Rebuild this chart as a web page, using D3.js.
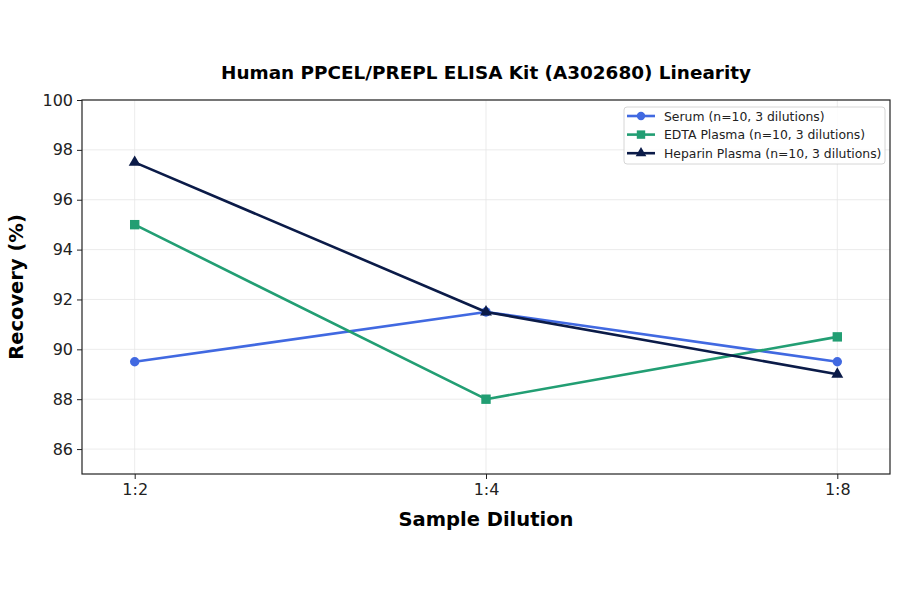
<!DOCTYPE html>
<html><head><meta charset="utf-8">
<script src="https://cdn.jsdelivr.net/npm/d3@7"></script>
<style>body{margin:0;background:#fff}svg{font-family:"DejaVu Sans",sans-serif}</style>
</head><body>
<svg id="c" width="900" height="594"></svg>
<script>
const categories = ["1:2","1:4","1:8"];
const serum = [89.5, 91.5, 89.5];
const edta = [95.0, 88.0, 90.5];
const heparin = [97.5, 91.5, 89.0];
const yTicks = [86,88,90,92,94,96,98,100];
const seriesNames = ["Serum (n=10, 3 dilutions)","EDTA Plasma (n=10, 3 dilutions)","Heparin Plasma (n=10, 3 dilutions)"];

const series = [
  {name: seriesNames[0], values: serum, color: "#4169E1", marker: "circle"},
  {name: seriesNames[1], values: edta, color: "#229E73", marker: "square"},
  {name: seriesNames[2], values: heparin, color: "#0B1B48", marker: "triangle"}
];

const svg = d3.select("#c");
const L=82, R=890, T=100, B=474;
const x = d3.scaleLinear().domain([-0.15, 2.15]).range([L,R]);
const y = d3.scaleLinear().domain([85,100]).range([B,T]);

// grid
const g = svg.append("g");
g.selectAll(".gy").data(yTicks).enter().append("line")
  .attr("x1",L).attr("x2",R).attr("y1",d=>y(d)).attr("y2",d=>y(d))
  .attr("stroke","#e6e6e6").attr("stroke-width",0.8);
g.selectAll(".gx").data(categories).enter().append("line")
  .attr("y1",T).attr("y2",B).attr("x1",(d,i)=>x(i)).attr("x2",(d,i)=>x(i))
  .attr("stroke","#e6e6e6").attr("stroke-width",0.8);

// axes
const yAxis = d3.axisLeft(y).tickValues(yTicks).tickSize(5).tickPadding(4);
const ya = svg.append("g").attr("transform",`translate(${L},0)`).call(yAxis);
const xAxis = d3.axisBottom(x).tickValues([0,1,2]).tickFormat(i=>categories[i]).tickSize(5).tickPadding(5);
const xa = svg.append("g").attr("transform",`translate(0,${B})`).call(xAxis);
[ya,xa].forEach(a=>{
  a.select(".domain").remove();
  a.selectAll("text").attr("font-size",16).attr("fill","#222").attr("font-family","DejaVu Sans");
  a.selectAll("line").attr("stroke","#222");
});
svg.append("rect").attr("x",L).attr("y",T).attr("width",R-L).attr("height",B-T)
  .attr("fill","none").attr("stroke","#222").attr("stroke-width",1.2);

// lines
const line = d3.line().x((d,i)=>x(i)).y(d=>y(d));
function marker(sel, type, color, size){
  if(type==="circle") return sel.append("circle").attr("r",size).attr("fill",color);
  if(type==="square") return sel.append("rect").attr("x",-size).attr("y",-size).attr("width",2*size).attr("height",2*size).attr("fill",color);
  return sel.append("path").attr("d",d3.symbol(d3.symbolTriangle, size*size*2.8)()).attr("fill",color);
}
series.forEach(s=>{
  svg.append("path").datum(s.values).attr("d",line).attr("fill","none")
    .attr("stroke",s.color).attr("stroke-width",2.6).attr("stroke-linejoin","round");
  s.values.forEach((v,i)=>{
    const m = svg.append("g").attr("transform",`translate(${x(i)},${y(v)})`);
    marker(m, s.marker, s.color, 4.7);
  });
});

// title and labels
svg.append("text").attr("x",(L+R)/2).attr("y",79).attr("text-anchor","middle")
  .attr("font-size",18.4).attr("font-weight","bold").attr("fill","#000")
  .text("Human PPCEL/PREPL ELISA Kit (A302680) Linearity");
svg.append("text").attr("x",(L+R)/2).attr("y",526).attr("text-anchor","middle")
  .attr("font-size",19.5).attr("font-weight","bold").attr("fill","#000").text("Sample Dilution");
svg.append("text").attr("transform",`translate(23,${(T+B)/2}) rotate(-90)`).attr("text-anchor","middle")
  .attr("font-size",19.5).attr("font-weight","bold").attr("fill","#000").text("Recovery (%)");

// legend
const lg = svg.append("g").attr("transform","translate(624,107)");
lg.append("rect").attr("width",261).attr("height",57).attr("rx",3).attr("fill","#fff").attr("fill-opacity",0.85)
  .attr("stroke","#ccc").attr("stroke-width",0.8);
series.forEach((s,i)=>{
  const yy = 9 + i*18.6;
  lg.append("line").attr("x1",3).attr("x2",31).attr("y1",yy).attr("y2",yy).attr("stroke",s.color).attr("stroke-width",2.6);
  const m = lg.append("g").attr("transform",`translate(17,${yy})`);
  marker(m, s.marker, s.color, 4.2);
  lg.append("text").attr("x",40).attr("y",yy+4.5).attr("font-size",12.4).attr("fill","#222").text(s.name);
});
</script>
</body></html>
